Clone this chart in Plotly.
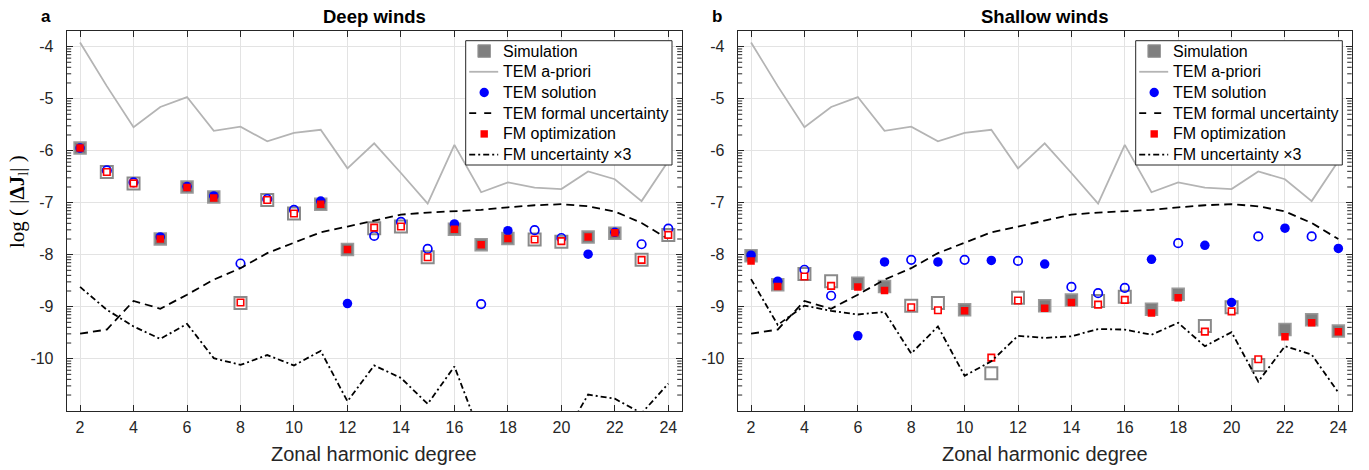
import math
import numpy as np
import plotly.graph_objects as go

# ---------------------------------------------------------------- data
degree = list(range(2, 25))

# a-priori spectrum and TEM formal uncertainty (shared by both panels)
tem_apriori = [-3.92, -4.76, -5.55, -5.16, -4.97, -5.62, -5.54, -5.82, -5.66, -5.60,
               -6.34, -5.86, -6.43, -7.02, -5.89, -6.80, -6.61, -6.71, -6.74, -6.40,
               -6.55, -6.97, -6.20]
tem_formal_unc = [-9.52, -9.44, -8.89, -9.04, -8.77, -8.48, -8.26, -7.97, -7.77, -7.57,
                  -7.46, -7.34, -7.23, -7.19, -7.16, -7.14, -7.09, -7.05, -7.03, -7.07,
                  -7.17, -7.39, -7.70]

# deep winds
deep_sim = [-5.95, -6.41, -6.63, -7.70, -6.70, -6.89, -8.93, -6.95, -7.21, -7.03,
            -7.90, -7.49, -7.46, -8.05, -7.51, -7.81, -7.69, -7.71, -7.75, -7.66,
            -7.59, -8.10, -7.62]
deep_sim_sign = [1, -1, -1, 1, 1, 1, -1, -1, -1, 1, 1, -1, -1, -1, 1, 1, 1, -1, -1, 1, 1, -1, -1]
deep_tem = [-5.95, -6.38, -6.61, -7.66, -6.69, -6.87, -8.17, -6.93, -7.14, -6.97,
            -8.94, -7.64, -7.37, -7.89, -7.41, -8.95, -7.54, -7.53, -7.68, -7.99,
            -7.57, -7.80, -7.50]
deep_tem_sign = [1, -1, -1, 1, 1, 1, -1, -1, -1, 1, 1, -1, -1, -1, 1, -1, 1, -1, -1, 1, 1, -1, -1]
deep_fm = [-5.95, -6.41, -6.63, -7.70, -6.71, -6.91, -8.92, -6.95, -7.21, -7.03,
           -7.90, -7.48, -7.46, -8.05, -7.51, -7.81, -7.69, -7.71, -7.74, -7.66,
           -7.58, -8.10, -7.62]
deep_fm_sign = [1, -1, -1, 1, 1, 1, -1, -1, -1, 1, 1, -1, -1, -1, 1, 1, 1, -1, -1, 1, 1, -1, -1]
deep_fm_unc3 = [-8.62, -9.06, -9.38, -9.62, -9.33, -9.99, -10.12, -9.93, -10.13, -9.85,
                -10.82, -10.13, -10.37, -10.87, -10.15, -11.50, -11.80, -11.60, -11.58, -10.69,
                -10.77, -11.05, -10.48]

# shallow winds
shallow_sim = [-8.02, -8.58, -8.37, -8.51, -8.55, -8.61, -8.98, -8.93, -9.06, -10.28,
               -8.83, -8.98, -8.87, -8.89, -8.81, -9.05, -8.76, -9.37, -9.01, -10.12,
               -9.44, -9.25, -9.47]
shallow_sim_sign = [1, 1, -1, -1, 1, 1, -1, -1, 1, -1, -1, 1, 1, -1, -1, 1, 1, -1, -1, -1, 1, 1, 1]
shallow_tem = [-8.01, -8.51, -8.29, -8.79, -9.56, -8.14, -8.10, -8.14, -8.10, -8.11,
               -8.12, -8.18, -8.62, -8.74, -8.64, -8.09, -7.78, -7.82, -8.92, -7.65,
               -7.49, -7.65, -7.88]
shallow_tem_sign = [1, 1, -1, -1, 1, 1, -1, 1, -1, 1, -1, 1, -1, -1, -1, 1, -1, 1, 1, -1, 1, -1, 1]
shallow_fm = [-8.12, -8.61, -8.42, -8.60, -8.62, -8.69, -9.01, -9.07, -9.08, -9.98,
              -8.88, -9.03, -8.92, -8.96, -8.87, -9.12, -8.83, -9.48, -9.09, -10.01,
              -9.58, -9.31, -9.48]
shallow_fm_sign = [1, 1, -1, -1, 1, 1, -1, -1, 1, -1, -1, 1, 1, -1, -1, 1, 1, -1, -1, -1, 1, 1, 1]
shallow_fm_unc3 = [-8.47, -9.35, -8.98, -9.08, -9.15, -9.10, -9.90, -9.38, -10.33, -10.05,
                   -9.56, -9.60, -9.57, -9.43, -9.44, -9.54, -9.31, -9.76, -9.49, -10.44,
                   -9.76, -9.92, -10.65]

panel_titles = ["Deep winds", "Shallow winds"]
panel_letters = ["a", "b"]
legend_labels = ["Simulation", "TEM a-priori", "TEM solution", "TEM formal uncertainty",
                 "FM optimization", "FM uncertainty \u00d73"]
y_tick_vals = [-4, -5, -6, -7, -8, -9, -10]
x_tick_vals = list(range(2, 25, 2))

# ---------------------------------------------------------------- style
W, H = 1369, 470
FONT = "Liberation Sans, Arial, Helvetica, sans-serif"
INK = "#262626"
GRID = "#e3e3e3"
SIM_FILL = "#7f7f7f"
SIM_EDGE = "#9a9a9a"
SIM_OPEN_EDGE = "#8a8a8a"
BLUE = "#0000ff"
RED = "#ff0000"
APRIORI = "#b4b4b4"
DASH_FORMAL = "8px,5px"
DASH_FM = "6px,3px,2px,3px"

# axes rectangles in pixels (left, right), shared top/bottom
PANELS = [(66.7, 681.7), (737.7, 1351.7)]
TOP_PX, BOT_PX = 31.0, 410.7
Y_RANGE = [-11.0, -3.7]
X_RANGE = [1.5, 24.5]

# legend boxes in pixels (left, right), shared top/bottom
LEGEND_BOXES = [(465.7, 672.0), (1135.7, 1342.3)]
LEG_TOP, LEG_BOT = 40.7, 165.0

fig = go.Figure()


def split(vals, signs):
    pos_x = [d for d, s in zip(degree, signs) if s > 0]
    pos_y = [v for v, s in zip(vals, signs) if s > 0]
    neg_x = [d for d, s in zip(degree, signs) if s < 0]
    neg_y = [v for v, s in zip(vals, signs) if s < 0]
    return (pos_x, pos_y), (neg_x, neg_y)


def add_panel(col, sim, sim_s, tem, tem_s, fm, fm_s, fm_unc):
    xa = "x" if col == 1 else "x2"
    ya = "y" if col == 1 else "y2"
    common = dict(xaxis=xa, yaxis=ya, showlegend=False)

    # simulation: filled (positive) / open (negative) squares
    (px_, py_), (nx_, ny_) = split(sim, sim_s)
    fig.add_trace(go.Scatter(x=px_, y=py_, mode="markers", name="Simulation",
                             marker=dict(symbol="square", size=12, color=SIM_FILL,
                                         line=dict(color=SIM_EDGE, width=1.5)), **common))
    fig.add_trace(go.Scatter(x=nx_, y=ny_, mode="markers", name="Simulation",
                             marker=dict(symbol="square", size=12, color="white",
                                         line=dict(color=SIM_OPEN_EDGE, width=2)), **common))

    # TEM a-priori
    fig.add_trace(go.Scatter(x=degree, y=tem_apriori, mode="lines", name="TEM a-priori",
                             line=dict(color=APRIORI, width=1.8), **common))

    # TEM solution
    (px_, py_), (nx_, ny_) = split(tem, tem_s)
    fig.add_trace(go.Scatter(x=px_, y=py_, mode="markers", name="TEM solution",
                             marker=dict(symbol="circle", size=9.5, color=BLUE,
                                         line=dict(width=0)), **common))
    fig.add_trace(go.Scatter(x=nx_, y=ny_, mode="markers", name="TEM solution",
                             marker=dict(symbol="circle-open", size=8.5, color=BLUE,
                                         line=dict(width=1.7)), **common))

    # TEM formal uncertainty
    fig.add_trace(go.Scatter(x=degree, y=tem_formal_unc, mode="lines",
                             name="TEM formal uncertainty",
                             line=dict(color="black", width=1.8, dash=DASH_FORMAL), **common))

    # FM optimization
    (px_, py_), (nx_, ny_) = split(fm, fm_s)
    fig.add_trace(go.Scatter(x=px_, y=py_, mode="markers", name="FM optimization",
                             marker=dict(symbol="square", size=7.5, color=RED,
                                         line=dict(width=0)), **common))
    fig.add_trace(go.Scatter(x=nx_, y=ny_, mode="markers", name="FM optimization",
                             marker=dict(symbol="square", size=6.5, color="white",
                                         line=dict(color=RED, width=1.6)), **common))

    # FM uncertainty x3
    fig.add_trace(go.Scatter(x=degree, y=fm_unc, mode="lines",
                             name="FM uncertainty \u00d73",
                             line=dict(color="black", width=1.8, dash=DASH_FM), **common))


add_panel(1, deep_sim, deep_sim_sign, deep_tem, deep_tem_sign, deep_fm, deep_fm_sign,
          deep_fm_unc3)
add_panel(2, shallow_sim, shallow_sim_sign, shallow_tem, shallow_tem_sign, shallow_fm,
          shallow_fm_sign, shallow_fm_unc3)

# ---------------------------------------------------------------- axes
y_dom = [1 - BOT_PX / H, 1 - TOP_PX / H]
axis_common = dict(showline=True, linecolor=INK, linewidth=1, mirror="allticks",
                   ticks="inside", ticklen=6, tickwidth=1, tickcolor=INK,
                   showgrid=True, gridcolor=GRID, gridwidth=1, zeroline=False,
                   tickfont=dict(family=FONT, size=16, color=INK), automargin=False)

layout = dict(width=W, height=H, margin=dict(l=0, r=0, t=0, b=0),
              paper_bgcolor="white", plot_bgcolor="white", showlegend=False)

for i, (l_px, r_px) in enumerate(PANELS):
    sfx = "" if i == 0 else "2"
    layout["xaxis" + sfx] = dict(domain=[l_px / W, r_px / W], range=X_RANGE,
                                 tickvals=x_tick_vals, ticktext=[str(v) for v in x_tick_vals],
                                 anchor="y" + sfx, ticklabelstandoff=2, **axis_common)
    layout["yaxis" + sfx] = dict(domain=y_dom, range=Y_RANGE, tickvals=y_tick_vals,
                                 ticktext=["-%d" % abs(v) for v in y_tick_vals],
                                 anchor="x" + sfx, ticklabelstandoff=9, **axis_common)

fig.update_layout(**layout)


def px_x(p):
    return p / W


def px_y(p):
    return 1 - p / H


# log-style minor ticks on both vertical sides of each panel
shapes = []
for i, (l_px, r_px) in enumerate(PANELS):
    sfx = "" if i == 0 else "2"
    frac = 4.5 / (r_px - l_px)
    for n in range(-11, -4):
        for k in range(2, 10):
            yv = n + math.log10(k)
            if yv >= Y_RANGE[1]:
                continue
            for x0, x1 in ((0, frac), (1 - frac, 1)):
                shapes.append(dict(type="line", xref="x%s domain" % sfx, yref="y" + sfx,
                                   x0=x0, x1=x1, y0=yv, y1=yv,
                                   line=dict(color=INK, width=1), layer="above"))

# legend boxes drawn with shapes + annotations
annotations = []
row_step = (LEG_BOT - LEG_TOP) / 6.0
for (bl, br) in LEGEND_BOXES:
    shapes.append(dict(type="rect", xref="paper", yref="paper",
                       x0=px_x(bl), x1=px_x(br), y0=px_y(LEG_BOT), y1=px_y(LEG_TOP),
                       fillcolor="white", line=dict(color=INK, width=1), layer="above"))
    sx = bl + 18.5          # symbol centre
    lx0, lx1 = bl + 3.5, bl + 32.5  # line sample extent
    tx = bl + 35.0          # text start
    for r, label in enumerate(legend_labels):
        cy = LEG_TOP + row_step * (r + 0.5)

        def box(half, fill, edge, ew):
            return dict(type="rect", xref="paper", yref="paper",
                        x0=px_x(sx - half), x1=px_x(sx + half),
                        y0=px_y(cy + half), y1=px_y(cy - half),
                        fillcolor=fill, line=dict(color=edge, width=ew), layer="above")

        if r == 0:
            shapes.append(box(6.3, SIM_FILL, SIM_EDGE, 1))
        elif r == 2:
            shapes.append(dict(type="circle", xref="paper", yref="paper",
                               x0=px_x(sx - 4.7), x1=px_x(sx + 4.7),
                               y0=px_y(cy + 4.7), y1=px_y(cy - 4.7),
                               fillcolor=BLUE, line=dict(color=BLUE, width=0), layer="above"))
        elif r == 4:
            shapes.append(box(3.7, RED, RED, 0))
        else:
            style = {1: dict(color=APRIORI, width=1.8),
                     3: dict(color="black", width=1.8, dash="7px,8px"),
                     5: dict(color="black", width=1.8, dash=DASH_FM)}[r]
            shapes.append(dict(type="line", xref="paper", yref="paper",
                               x0=px_x(lx0), x1=px_x(lx1), y0=px_y(cy), y1=px_y(cy),
                               line=style, layer="above"))
        annotations.append(dict(text=label, x=px_x(tx), y=px_y(cy), xref="paper",
                                yref="paper", showarrow=False, xanchor="left",
                                yanchor="middle",
                                font=dict(family=FONT, size=16, color="black")))

fig.update_layout(shapes=shapes)

# titles, panel letters and axis labels
for i, (l_px, r_px) in enumerate(PANELS):
    cx = (l_px + r_px) / 2 / W
    annotations.append(dict(text="<b>%s</b>" % panel_titles[i], x=cx, y=px_y(16),
                            xref="paper", yref="paper", showarrow=False,
                            xanchor="center", yanchor="middle",
                            font=dict(family=FONT, size=18.5, color="black")))
    annotations.append(dict(text="<b>%s</b>" % panel_letters[i],
                            x=px_x(l_px - 21), y=px_y(16),
                            xref="paper", yref="paper", showarrow=False,
                            xanchor="center", yanchor="middle",
                            font=dict(family=FONT, size=17, color="black")))
    annotations.append(dict(text="Zonal harmonic degree", x=cx, y=px_y(454),
                            xref="paper", yref="paper", showarrow=False,
                            xanchor="center", yanchor="middle",
                            font=dict(family=FONT, size=20, color=INK)))

annotations.append(dict(text="log ( |<b>\u0394J</b><sub>l</sub>| )",
                        x=px_x(18), y=px_y(202), xref="paper", yref="paper",
                        showarrow=False, textangle=-90, xanchor="center", yanchor="middle",
                        font=dict(family="Liberation Serif, DejaVu Serif, serif", size=21,
                                  color="black")))
fig.update_layout(annotations=annotations)

fig.write_html("out.html")
